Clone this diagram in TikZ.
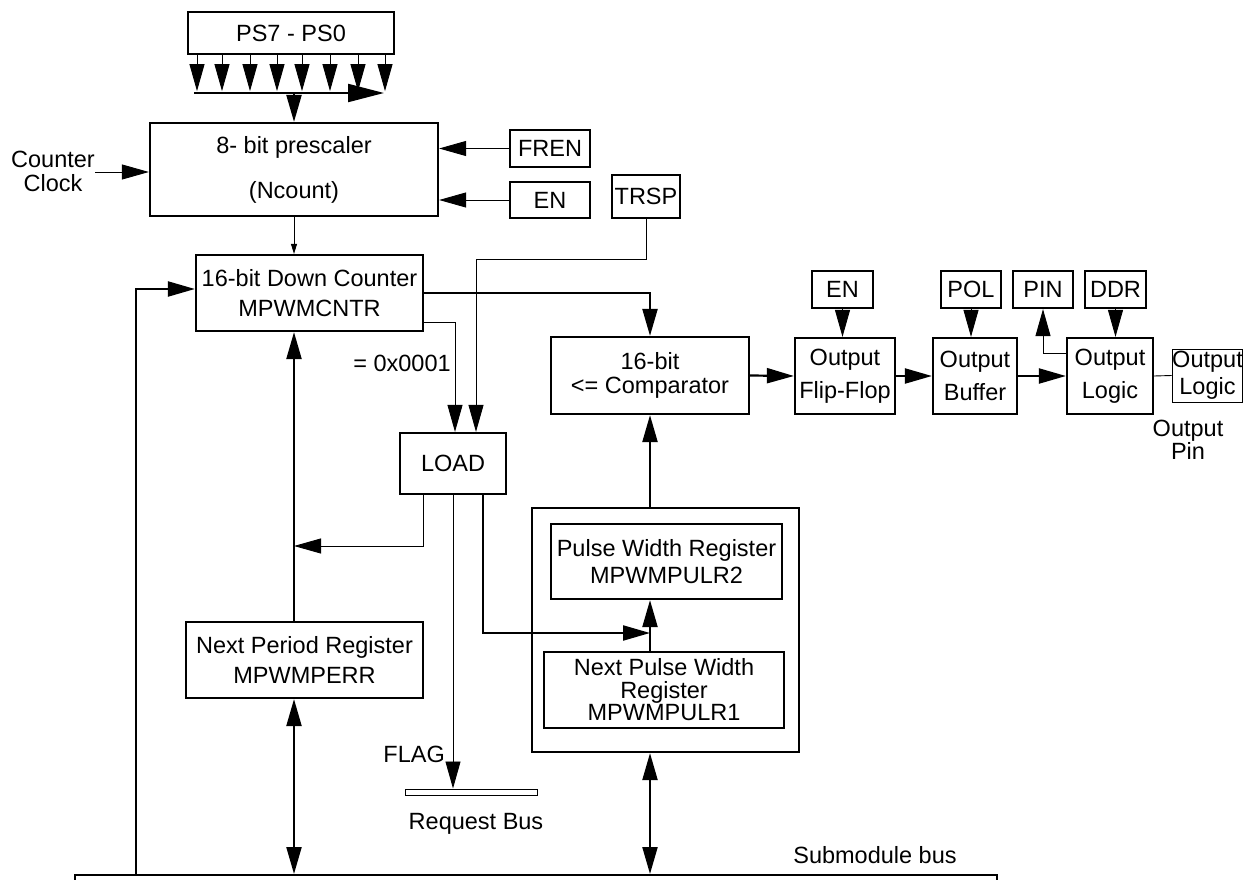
\documentclass[tikz,border=0pt]{standalone}
\usepackage{fontspec}
\setmainfont{Liberation Sans}
\usetikzlibrary{arrows.meta}
\tikzset{
  bx/.style={draw, line width=2.2pt, inner sep=0pt, align=center, font=\fontsize{23.5}{30}\selectfont},
  tbx/.style={draw, line width=1pt, inner sep=0pt, align=center, font=\fontsize{23.5}{27}\selectfont},
  lbl/.style={inner sep=0pt, align=center, font=\fontsize{23.5}{30}\selectfont},
  tk/.style={line width=2.2pt},
  tn/.style={line width=0.9pt},
  ar/.style={-{Triangle[length=27pt,width=15pt]}},
  arsm/.style={-{Triangle[length=10pt,width=6pt]}},
  arb/.style={{Triangle[length=27pt,width=15pt]}-{Triangle[length=27pt,width=15pt]}},
}
\begin{document}
\begin{tikzpicture}[x=1pt,y=-1pt]
\useasboundingbox (0,0) rectangle (1251,880);

% ---------- boxes ----------
\node[bx, minimum width=206pt, minimum height=42pt] (ps) at (291,33) {PS7 - PS0};
\node[bx, minimum width=288pt, minimum height=93pt, font=\fontsize{23.5}{45}\selectfont] (pre) at (294,169.5) {8- bit prescaler\\(Ncount)};
\node[bx, minimum width=80pt, minimum height=37pt] (fren) at (550,148.5) {FREN};
\node[bx, minimum width=80pt, minimum height=36pt] (en1) at (550,200) {EN};
\node[bx, minimum width=68pt, minimum height=43pt] (trsp) at (646,196.5) {TRSP};
\node[bx, minimum width=227pt, minimum height=76pt] (cnt) at (309.5,293) {16-bit Down Counter\\MPWMCNTR};
\node[bx, minimum width=106pt, minimum height=61pt] (load) at (453,463.5) {LOAD};
\node[bx, minimum width=198pt, minimum height=77pt, font=\fontsize{23.5}{24}\selectfont] (cmp) at (650,375.5) {16-bit\\<= Comparator};
\node[bx, minimum width=267pt, minimum height=244pt] (outer) at (665.5,630) {};
\node[bx, minimum width=231pt, minimum height=75pt, font=\fontsize{23.5}{27}\selectfont] (pw2) at (666.5,561.5) {Pulse Width Register\\MPWMPULR2};
\node[bx, minimum width=240pt, minimum height=76pt, font=\fontsize{23.5}{22.5}\selectfont] (pw1) at (664,690) {Next Pulse Width\\Register\\MPWMPULR1};
\node[bx, minimum width=237pt, minimum height=76pt] (per) at (304.5,660) {Next Period Register\\MPWMPERR};
\node[bx, minimum width=61pt, minimum height=37pt] (en2) at (842.5,289.5) {EN};
\node[bx, minimum width=100pt, minimum height=76pt, font=\fontsize{23.5}{33}\selectfont] (ff) at (845,376) {Output\\Flip-Flop};
\node[bx, minimum width=60pt, minimum height=37pt] (pol) at (971,289.5) {POL};
\node[bx, minimum width=84pt, minimum height=76pt, font=\fontsize{23.5}{33}\selectfont] (buf) at (975,376) {Output\\Buffer};
\node[bx, minimum width=60pt, minimum height=37pt] (pin) at (1043,289.5) {PIN};
\node[bx, minimum width=61pt, minimum height=37pt] (ddr) at (1115.5,289.5) {DDR};
\node[bx, minimum width=86pt, minimum height=76pt, font=\fontsize{23.5}{33}\selectfont] (logic) at (1110,376) {Output\\Logic};
\node[tbx, minimum width=69pt, minimum height=53pt] (outl) at (1207.5,375.5) {Output\\Logic};
\node[draw, line width=1pt, inner sep=0pt, minimum width=132pt, minimum height=6pt] (rq) at (471,792) {};
\node[draw, line width=2pt, inner sep=0pt, minimum width=922pt, minimum height=30pt] (bus) at (536,890) {};

% ---------- labels ----------
\node[lbl, font=\fontsize{23.5}{24}\selectfont] (clk) at (53,171) {Counter\\Clock};
\node[lbl] (eq) at (402,363) {= 0x0001};
\node[lbl, anchor=east] (flag) at (445,754) {FLAG};
\node[lbl] (rqt) at (476,824) {Request Bus};
\node[lbl] (sbt) at (875,855) {Submodule bus};
\node[lbl, font=\fontsize{23.5}{20}\selectfont] (opin) at (1188,440) {Output\\Pin};

% ---------- helper coordinates ----------
\coordinate (barL) at (194,93);
\coordinate (barR) at (384,93);
\coordinate (barM) at (294,93);
\coordinate (vx) at (294,0);
\coordinate (cx) at (650,0);
\coordinate (j1) at (294,546);
\coordinate (lj) at (650,633);
\coordinate (tr1) at (0,259);
\coordinate (fbx) at (136,0);

% ---------- connectors ----------
\foreach \dx in {-94,-69,-41,-14,11,39,67,94}
  \draw[tn, ar] ([xshift=\dx pt]ps.south) -- ++(0,36);
\draw[tk, -{Triangle[length=36pt,width=18pt]}] (barL) -- (barR);
\draw[tk, ar] (barM) -- (pre.north);

\draw[tn, ar] (clk.east |- 0,172) -- (pre.west |- 0,172);
\draw[tn, ar] (fren.west) -- (fren.west -| pre.east);
\draw[tn, ar] (en1.west) -- (en1.west -| pre.east);
\draw[tn, arsm] (pre.south) -- (pre.south |- cnt.north);

\draw[tk, ar] (fbx |- bus.north) |- ([yshift=4pt]cnt.west);
\draw[tk, ar] (per.north -| vx) -- (cnt.south -| vx);
\draw[tk, arb] (per.south -| vx) -- (bus.north -| vx);

\draw[tk, ar] (cnt.east) -| (cmp.north);
\draw[tn, ar] ([yshift=-29pt]cnt.east) -| ([xshift=2pt]load.north);
\draw[tn, ar] (trsp.south) -- (trsp.south |- tr1) -| ([xshift=23pt]load.north);

\draw[tn, ar] ([xshift=-30pt]load.south) |- (j1);
\draw[tn, ar] (load.south) -- (load.south |- rq.north);
\draw[tk, ar] ([xshift=30pt]load.south) |- (lj);

\draw[tk, ar] (outer.north -| cx) -- (cmp.south -| cx);
\draw[tk, ar] (pw1.north -| cx) -- (pw2.south -| cx);
\draw[tk, arb] (outer.south -| cx) -- (bus.north -| cx);

\draw[tk, ar] (cmp.east) -- (ff.west);
\draw[tk, ar] (ff.east) -- (buf.west);
\draw[tk, ar] (buf.east) -- (logic.west);
\draw[tn, ar] (en2.south) -- (en2.south |- ff.north);
\draw[tn, ar] (pol.south) -- (pol.south |- buf.north);
\draw[tn, ar] (ddr.south) -- (ddr.south |- logic.north);
\draw[tn, ar] ([yshift=23pt]logic.west) -| (pin.south);
\draw[tn] (logic.east) -- (outl.west);
\end{tikzpicture}
\end{document}
